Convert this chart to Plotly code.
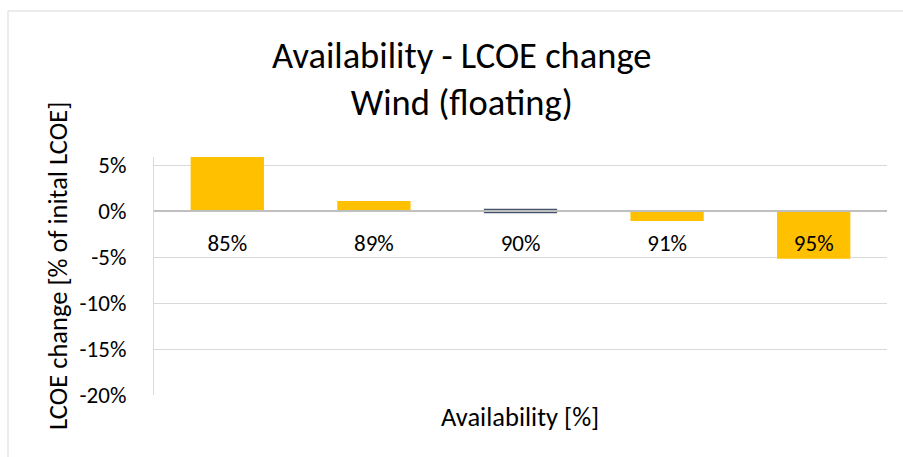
import plotly.graph_objects as go

categories = ["85%", "89%", "90%", "91%", "95%"]
lcoe_change = [5.9, 1.1, 0.0, -1.1, -5.2]
bar_colors = ["#FFC000", "#FFC000", "#BFBFBF", "#FFC000", "#FFC000"]
bar_line_colors = ["#FFC000", "#FFC000", "#44546A", "#FFC000", "#FFC000"]
bar_line_widths = [0, 0, 4.5, 0, 0]
y_ticks = [-20, -15, -10, -5, 0, 5]
y_tick_labels = ["-20%", "-15%", "-10%", "-5%", "0%", "5%"]

W, H = 903, 457
L, R, T, B = 154, 16, 157, 62
pw, ph = W - L - R, H - T - B
ymin, ymax = -20, 5.87

def px_x(p):
    return (p - L) / pw

def px_y(p):
    return (H - B - p) / ph

FONT = "Carlito, Lato, sans-serif"

fig = go.Figure()
fig.add_trace(go.Bar(
    x=categories, y=lcoe_change,
    marker=dict(color=bar_colors, line=dict(color=bar_line_colors, width=bar_line_widths)),
    width=0.5, showlegend=False, hoverinfo="x+y",
))

fig.update_layout(
    width=W, height=H,
    margin=dict(l=L, r=R, t=T, b=B),
    paper_bgcolor="white", plot_bgcolor="white",
    font=dict(family=FONT, color="#000000"),
    xaxis=dict(
        type="category", anchor="free", position=(0 - ymin) / (ymax - ymin),
        showline=False, showgrid=False, ticks="", ticklabelstandoff=16,
        tickfont=dict(size=23, family=FONT, color="#000000"),
        layer="above traces",
    ),
    yaxis=dict(
        range=[ymin, ymax], tickvals=y_ticks, ticktext=y_tick_labels,
        showgrid=True, gridcolor="#D9D9D9", gridwidth=1,
        zeroline=True, zerolinecolor="#BFBFBF", zerolinewidth=2,
        showline=True, linecolor="#D9D9D9", linewidth=1,
        ticks="", ticklabelstandoff=22,
        tickfont=dict(size=23, family=FONT, color="#000000"),
    ),
    shapes=[dict(
        type="rect", xref="paper", yref="paper",
        x0=px_x(8), x1=px_x(915), y0=px_y(470), y1=px_y(11),
        line=dict(color="#D9D9D9", width=1), fillcolor="rgba(0,0,0,0)", layer="below",
    )],
    annotations=[
        dict(text="Availability - LCOE change<br>Wind (floating)",
             xref="paper", yref="paper", x=px_x(462), y=px_y(79),
             xanchor="center", yanchor="middle", showarrow=False,
             font=dict(size=36.5, family=FONT, color="#000000")),
        dict(text="LCOE change [% of inital LCOE]", textangle=-90,
             xref="paper", yref="paper", x=px_x(58), y=px_y(266),
             xanchor="center", yanchor="middle", showarrow=False,
             font=dict(size=26.5, family=FONT, color="#000000")),
        dict(text="Availability [%]",
             xref="paper", yref="paper", x=px_x(520), y=px_y(417),
             xanchor="center", yanchor="middle", showarrow=False,
             font=dict(size=26.5, family=FONT, color="#000000")),
    ],
)

try:
    fig.update_yaxes(zerolinelayer="above traces")
except Exception:
    pass

fig.write_html("out.html")
